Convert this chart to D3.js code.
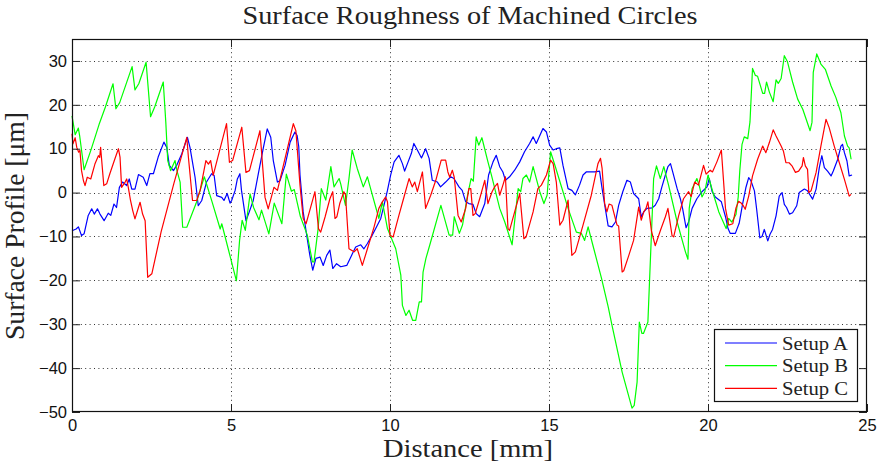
<!DOCTYPE html>
<html>
<head>
<meta charset="utf-8">
<script src="https://cdn.jsdelivr.net/npm/d3@7"></script>
<style>
  html, body { margin: 0; padding: 0; background: #fff; }
  svg { display: block; }
  .tick text { font-family: "Liberation Sans", Arial, sans-serif; font-size: 16.5px; fill: #111; }
</style>
</head>
<body>
<svg id="chart" width="883" height="468"></svg>
<script>
// Surface profiles [distance mm, profile µm] for the three machining setups
const setupA = [
  [0,-8.7],[0.13,-8.3],[0.2,-7.8],[0.3,-9.8],[0.38,-9.4],[0.51,-5.2],[0.62,-3.7],[0.7,-4.9],[0.8,-3.7],[0.88,-4.9],
  [1.01,-6.4],[1.14,-4.7],[1.22,-5.2],[1.32,-2.6],[1.4,-3.4],[1.49,1.2],[1.59,2.4],[1.72,1.6],[1.8,3.1],[1.88,0.8],
  [1.98,0.8],[2.09,4.1],[2.24,3.5],[2.35,1.6],[2.45,4.3],[2.56,4.3],[2.71,8.1],[2.89,11.5],[2.98,10.3],[3.06,6.2],
  [3.19,5.0],[3.29,6.2],[3.45,8.8],[3.63,12.6],[3.71,10.3],[3.87,3.5],[3.97,-3.0],[4.08,-1.8],[4.23,2.4],[4.39,4.3],
  [4.47,3.9],[4.55,-0.7],[4.71,-1.1],[4.78,-1.8],[4.88,-0.2],[4.97,-2.4],[5.02,-1.8],[5.13,0.5],[5.2,3.1],[5.28,4.3],
  [5.33,0.5],[5.47,-6.4],[5.55,-4.9],[5.7,-1.8],[5.86,4.3],[6.02,10.3],[6.14,14.5],[6.25,12.6],[6.33,7.3],[6.46,2.4],
  [6.54,2.7],[6.7,6.2],[6.86,11.5],[7.01,13.8],[7.08,13.0],[7.13,10.5],[7.17,4.0],[7.27,-4.4],[7.38,-9.7],[7.48,-14.3],
  [7.57,-17.7],[7.67,-15.0],[7.8,-14.7],[7.9,-16.6],[8.01,-14.3],[8.11,-13.1],[8.2,-17.3],[8.32,-16.2],[8.45,-16.9],[8.64,-16.6],
  [8.82,-13.9],[8.92,-12.4],[9.08,-11.9],[9.18,-12.8],[9.29,-11.6],[9.44,-9.7],[9.55,-8.2],[9.71,-5.9],[9.81,-2.9],[9.92,0.5],
  [10.02,4.0],[10.13,7.0],[10.28,8.5],[10.39,6.6],[10.46,4.9],[10.57,7.0],[10.67,8.9],[10.75,11.2],[10.86,9.7],[10.99,7.9],
  [11.12,10.0],[11.23,7.8],[11.33,2.8],[11.49,2.4],[11.59,1.3],[11.75,2.4],[11.91,3.6],[12.01,3.2],[12.17,1.3],[12.27,0.5],
  [12.38,-2.1],[12.48,-2.5],[12.61,-2.7],[12.71,-4.8],[12.82,-5.5],[12.98,-2.5],[13.1,4.0],[13.24,7.0],[13.34,8.5],[13.45,5.9],
  [13.55,4.7],[13.63,2.8],[13.76,3.6],[13.92,5.1],[14.08,7.0],[14.23,9.3],[14.39,11.2],[14.5,12.7],[14.6,11.2],[14.81,14.6],
  [14.92,13.8],[15.02,10.8],[15.13,9.7],[15.23,10.0],[15.34,10.2],[15.44,6.2],[15.6,0.9],[15.72,0.5],[15.83,-0.5],[15.96,1.7],
  [16.07,4.0],[16.17,4.7],[16.44,4.7],[16.59,4.9],[16.67,0.9],[16.77,-3.6],[16.86,-7.6],[16.98,-7.8],[17.09,-6.7],[17.19,-2.9],
  [17.32,0.2],[17.45,2.8],[17.56,2.4],[17.66,-0.2],[17.82,-1.4],[17.9,-5.5],[17.98,-4.4],[18.08,-3.6],[18.24,-3.5],[18.34,-2.9],
  [18.45,-1.4],[18.55,1.3],[18.66,4.0],[18.74,5.9],[18.82,6.6],[18.89,4.7],[19.03,0.9],[19.13,-1.4],[19.2,-3.6],[19.31,-8.0],
  [19.39,-6.7],[19.5,-3.6],[19.65,-1.4],[19.81,0.2],[19.97,1.3],[20.04,3.2],[20.13,0.2],[20.23,-1.0],[20.42,-2.1],[20.55,-5.5],
  [20.63,-8.2],[20.7,-9.3],[20.86,-9.3],[20.98,-7.0],[21.09,-2.5],[21.19,1.1],[21.28,3.4],[21.35,2.7],[21.46,0.4],[21.53,-3.8],
  [21.63,-10.3],[21.7,-10.0],[21.77,-8.4],[21.88,-11.0],[21.95,-9.5],[22.03,-8.4],[22.14,-5.3],[22.24,-0.8],[22.33,0],[22.4,-2.7],
  [22.47,-3.4],[22.56,-4.9],[22.66,-4.6],[22.79,-3.0],[22.87,0],[23.03,0.8],[23.13,0.4],[23.29,-1.5],[23.4,0.8],[23.5,5.7],
  [23.58,8.4],[23.66,5.7],[23.76,4.9],[23.87,3.8],[23.94,4.9],[24.08,7.6],[24.18,10.6],[24.23,11.0],[24.29,9.1],[24.37,7.2],
  [24.44,3.8],[24.53,4.0]
];

const setupB = [
  [0,17.5],[0.1,13.2],[0.2,14.7],[0.24,13.0],[0.38,5.2],[0.6,9.8],[0.85,15.5],[1.05,19.5],[1.29,24.8],[1.38,19.1],
  [1.5,20.5],[1.89,28.7],[1.98,23.4],[2.1,24.8],[2.33,29.7],[2.47,17.3],[2.6,19.5],[2.87,25.2],[2.95,16.0],[3.01,7.3],
  [3.1,5.0],[3.24,7.3],[3.3,5.0],[3.4,2.4],[3.48,-7.9],[3.61,-7.9],[3.9,-2.5],[4.16,3.6],[4.4,-2.0],[4.66,-8.3],
  [4.71,-7.1],[5.17,-20.1],[5.27,-10.9],[5.35,-6.3],[5.45,-8.6],[5.6,-0.3],[5.71,-3.4],[5.88,-6.2],[5.96,-4.0],[6.19,-9.4],
  [6.36,-2.4],[6.6,-7.1],[6.74,4.2],[6.9,0.3],[6.99,0.7],[7.18,-5.4],[7.4,-9.7],[7.56,-15.8],[7.61,-15.8],[7.74,-8.2],
  [7.84,0.9],[7.98,-1.7],[8.14,5.9],[8.24,1.3],[8.4,3.2],[8.45,2.0],[8.6,-2.9],[8.71,3.2],[8.81,9.7],[8.97,5.5],
  [9.16,1.3],[9.29,3.6],[9.39,0.9],[9.65,-5.9],[9.76,-2.1],[9.92,-8.2],[10.18,-12.8],[10.34,-18.8],[10.39,-25.7],[10.5,-28.0],
  [10.6,-26.8],[10.71,-29.1],[10.81,-29.1],[10.92,-24.9],[10.99,-24.9],[11.04,-18.1],[11.13,-15.0],[11.28,-11.2],[11.6,-2.9],[11.86,-9.7],
  [11.97,-9.7],[12.02,-5.5],[12.18,-9.3],[12.28,-7.4],[12.44,-0.6],[12.55,3.2],[12.62,2.6],[12.71,12.7],[12.79,10.8],[12.89,12.5],
  [13.08,7.0],[13.19,4.0],[13.45,-3.6],[13.61,-6.7],[13.84,-11.9],[14.03,0.9],[14.11,0.2],[14.18,3.2],[14.29,4.0],[14.39,2.4],
  [14.5,5.9],[14.71,0.2],[14.84,-2.5],[14.94,-0.6],[15.05,9.3],[15.2,5.9],[15.44,0.2],[15.6,-3.6],[15.86,-9.0],[16.02,-9.3],
  [16.12,-10.9],[16.23,-7.8],[16.38,-12.0],[16.65,-19.5],[16.86,-26.0],[16.98,-30.2],[17.3,-40.9],[17.61,-49.1],[17.68,-48.5],[17.77,-43.2],
  [17.84,-29.5],[17.92,-32.1],[17.97,-32.1],[18.11,-29.5],[18.16,-20.4],[18.22,-9.7],[18.29,3.2],[18.38,6.1],[18.5,3.2],[18.61,5.9],
  [18.76,1.7],[19.03,-6.7],[19.29,-13.5],[19.37,-15.2],[19.41,-3.6],[19.5,0.9],[19.65,3.2],[19.72,1.7],[19.81,-1.0],[19.9,0.2],
  [20.0,4.0],[20.18,-0.6],[20.34,-4.4],[20.57,-8.2],[20.65,-5.9],[20.75,-6.7],[20.88,-5.0],[20.95,-1.0],[21.0,5.0],[21.07,11.0],
  [21.14,12.7],[21.25,12.3],[21.32,16.1],[21.4,28.3],[21.49,26.7],[21.56,26.5],[21.72,22.6],[21.78,22.6],[21.84,25.2],[21.93,22.9],
  [22.05,20.7],[22.14,25.7],[22.21,24.9],[22.3,26.0],[22.4,31.2],[22.5,29.8],[22.66,25.2],[22.82,21.3],[22.98,19.0],[23.21,14.1],
  [23.27,16.0],[23.31,27.4],[23.42,31.6],[23.55,29.3],[23.69,28.1],[23.87,24.3],[24.02,21.7],[24.18,18.2],[24.29,12.9],[24.39,10.6],
  [24.44,10.2],[24.5,7.6]
];

const setupC = [
  [0,13.4],[0.03,11.1],[0.1,12.5],[0.15,10.3],[0.21,9.2],[0.25,9.6],[0.3,5.0],[0.36,2.7],[0.41,1.6],[0.48,3.5],
  [0.59,3.1],[0.72,6.5],[0.83,8.4],[0.87,8.0],[0.9,10.3],[1.0,1.6],[1.09,2.0],[1.19,4.3],[1.35,7.7],[1.46,10.0],
  [1.51,8.1],[1.56,1.2],[1.67,2.4],[1.72,3.1],[1.77,1.2],[1.84,-1.8],[1.91,-4.1],[1.98,-6.0],[2.14,-2.2],[2.22,-4.9],
  [2.3,-6.4],[2.38,-19.3],[2.51,-18.5],[2.8,-9.0],[3.2,2.0],[3.61,12.6],[3.66,8.1],[3.71,4.3],[3.79,-1.8],[3.92,-1.8],
  [4.03,0.5],[4.21,7.3],[4.29,6.5],[4.36,7.3],[4.44,3.9],[4.86,15.7],[4.95,6.9],[5.05,7.3],[5.34,14.9],[5.47,4.6],
  [5.58,5.0],[5.91,14.1],[6.07,-1.1],[6.17,-3.7],[6.35,1.2],[6.46,0.5],[6.96,15.7],[7.04,14.1],[7.17,1.7],[7.27,-5.9],
  [7.36,-7.1],[7.48,-4.0],[7.64,0.2],[7.75,-8.2],[7.82,-9.0],[7.96,-5.5],[8.11,-1.4],[8.2,0.2],[8.27,-5.9],[8.33,-5.5],
  [8.42,-2.5],[8.55,0.2],[8.6,-0.5],[8.71,-12.8],[8.87,-13.5],[8.97,-12.8],[9.13,-16.6],[9.29,-12.8],[9.5,-7.8],[9.65,-3.6],
  [9.76,-2.1],[9.86,-1.0],[9.92,-2.1],[10.0,-9.7],[10.1,-10.1],[10.28,-5.2],[10.44,-1.0],[10.6,3.2],[10.7,1.3],[10.78,2.4],
  [10.86,0.2],[11.02,4.7],[11.12,-3.6],[11.28,-0.6],[11.44,2.8],[11.61,7.4],[11.75,7.4],[11.82,4.7],[11.88,3.5],[11.96,5.1],
  [12.02,3.5],[12.14,-5.2],[12.24,-6.7],[12.38,-3.6],[12.48,0.9],[12.54,0.9],[12.61,-5.2],[12.68,-4.8],[12.82,-1.4],[12.98,2.8],
  [13.08,-2.5],[13.21,0.2],[13.29,1.3],[13.38,2.1],[13.45,-0.6],[13.55,1.7],[13.63,3.6],[13.71,-8.2],[13.76,-8.6],[13.92,-4.4],
  [14.08,-0.2],[14.21,-10.5],[14.28,-10.1],[14.5,-4.4],[14.65,0.9],[14.76,1.7],[14.92,4.0],[15.05,7.4],[15.13,6.6],[15.23,2.4],
  [15.34,-7.4],[15.44,-6.3],[15.6,-1.7],[15.72,-14.3],[15.83,-13.5],[16.07,-7.4],[16.33,-0.6],[16.54,6.6],[16.62,7.8],[16.67,5.5],
  [16.75,-2.5],[16.82,-4.4],[16.89,-2.6],[16.98,-2.9],[17.06,-5.2],[17.14,-7.4],[17.19,-7.6],[17.3,-18.1],[17.35,-17.8],[17.51,-14.3],
  [17.66,-10.9],[17.82,-3.3],[17.9,-6.3],[17.98,-4.4],[18.05,-3.6],[18.11,-2.1],[18.22,-8.7],[18.34,-12.1],[18.5,-8.7],[18.66,-5.5],
  [18.74,-3.6],[18.87,-9.8],[18.92,-10.1],[19.08,-5.2],[19.23,-1.4],[19.39,0.2],[19.47,-0.9],[19.58,2.4],[19.7,1.7],[19.86,6.2],
  [19.94,4.2],[20.07,5.1],[20.14,4.7],[20.28,7.0],[20.42,9.7],[20.55,-3.6],[20.65,-7.4],[20.78,-7.1],[20.88,-3.5],[20.96,-2.0],
  [21.03,-2.3],[21.11,-3.0],[21.17,-3.8],[21.28,-0.8],[21.4,3.8],[21.56,7.6],[21.72,10.6],[21.82,9.1],[21.93,11.4],[22.05,14.3],
  [22.14,12.9],[22.3,10.6],[22.37,9.5],[22.45,6.8],[22.55,6.8],[22.64,6.1],[22.75,4.6],[22.85,4.9],[22.96,6.1],[23.0,8.0],
  [23.06,6.1],[23.13,5.3],[23.17,0],[23.24,0.4],[23.4,4.6],[23.55,10.6],[23.71,16.7],[23.81,14.8],[23.97,10.6],[24.13,6.8],
  [24.29,3.0],[24.44,-0.8],[24.5,-0.4]
];

const seriesNames = ["Setup A", "Setup B", "Setup C"];
const seriesColors = ["#0000ff", "#00ff00", "#ff0000"];
const xTicks = [0, 5, 10, 15, 20, 25];
const yTicks = [-50, -40, -30, -20, -10, 0, 10, 20, 30];

const svg = d3.select("#chart");
const W = 883, H = 468;
const plot = { left: 72, right: 867, top: 39, bottom: 412 };

svg.append("rect").attr("width", W).attr("height", H).attr("fill", "#fff");

const x = d3.scaleLinear().domain([0, 25]).range([plot.left, plot.right]);
const y = d3.scaleLinear().domain([-50, 35]).range([plot.bottom, plot.top]);

// dotted grid
const grid = svg.append("g").attr("stroke", "#333").attr("stroke-width", 1)
  .attr("stroke-dasharray", "1,3.4");
grid.selectAll(".gx").data(xTicks.filter(t => t > 0 && t < 25)).join("line")
  .attr("x1", d => Math.round(x(d)) + 0.5).attr("x2", d => Math.round(x(d)) + 0.5)
  .attr("y1", plot.top).attr("y2", plot.bottom);
grid.selectAll(".gy").data(yTicks.filter(t => t > -50)).join("line")
  .attr("y1", d => Math.round(y(d)) + 0.5).attr("y2", d => Math.round(y(d)) + 0.5)
  .attr("x1", plot.left).attr("x2", plot.right);

// profile lines
const line = d3.line().x(d => x(d[0])).y(d => y(d[1]));
const plotG = svg.append("g");
[setupA, setupB, setupC].forEach((s, i) => {
  plotG.append("path").datum(s)
    .attr("fill", "none")
    .attr("stroke", seriesColors[i])
    .attr("stroke-width", 1.2)
    .attr("stroke-linejoin", "round")
    .attr("d", line);
});

// axes with inward ticks on all four sides
const fmt = d3.format("");
const styleAxis = g => {
  g.select(".domain").remove();
  g.selectAll(".tick line").attr("stroke", "#222");
};
svg.append("g").attr("transform", `translate(0,${plot.bottom})`)
  .call(d3.axisBottom(x).tickValues(xTicks).tickSize(-8).tickPadding(7).tickFormat(fmt))
  .call(styleAxis);
svg.append("g").attr("transform", `translate(0,${plot.top})`)
  .call(d3.axisTop(x).tickValues(xTicks).tickSize(-8).tickFormat(""))
  .call(styleAxis);
svg.append("g").attr("transform", `translate(${plot.left},0)`)
  .call(d3.axisLeft(y).tickValues(yTicks).tickSize(-8).tickPadding(5).tickFormat(fmt))
  .call(styleAxis);
svg.append("g").attr("transform", `translate(${plot.right},0)`)
  .call(d3.axisRight(y).tickValues(yTicks).tickSize(-8).tickFormat(""))
  .call(styleAxis);

// frame
svg.append("rect")
  .attr("x", plot.left + 0.5).attr("y", plot.top + 0.5)
  .attr("width", plot.right - plot.left - 1).attr("height", plot.bottom - plot.top - 1)
  .attr("fill", "none").attr("stroke", "#111").attr("stroke-width", 1.2);

// titles
const serif = "'Liberation Serif', 'Times New Roman', serif";
svg.append("text").attr("x", 470).attr("y", 24).attr("text-anchor", "middle")
  .attr("font-family", serif).attr("font-size", 26).attr("fill", "#222")
  .attr("textLength", 455).attr("lengthAdjust", "spacingAndGlyphs")
  .text("Surface Roughness of Machined Circles");
svg.append("text").attr("x", 468).attr("y", 457).attr("text-anchor", "middle")
  .attr("font-family", serif).attr("font-size", 26).attr("fill", "#222")
  .attr("textLength", 170).attr("lengthAdjust", "spacingAndGlyphs")
  .text("Distance [mm]");
svg.append("text").attr("transform", "translate(24,226) rotate(-90)").attr("text-anchor", "middle")
  .attr("font-family", serif).attr("font-size", 27).attr("fill", "#222")
  .attr("textLength", 228).attr("lengthAdjust", "spacingAndGlyphs")
  .text("Surface Profile [μm]");

// legend
const lg = svg.append("g");
lg.append("rect").attr("x", 714.5).attr("y", 329.5).attr("width", 143).attr("height", 72)
  .attr("fill", "#fff").attr("stroke", "#111").attr("stroke-width", 1.2);
seriesNames.forEach((name, i) => {
  const yy = 343 + i * 22.7;
  lg.append("line").attr("x1", 725).attr("x2", 777).attr("y1", yy).attr("y2", yy)
    .attr("stroke", seriesColors[i]).attr("stroke-width", 1.2);
  lg.append("text").attr("x", 782).attr("y", yy).attr("dy", "0.35em")
    .attr("font-family", serif).attr("font-size", 19).attr("fill", "#222")
    .attr("textLength", 66).attr("lengthAdjust", "spacingAndGlyphs")
    .text(name);
});
</script>
</body>
</html>
